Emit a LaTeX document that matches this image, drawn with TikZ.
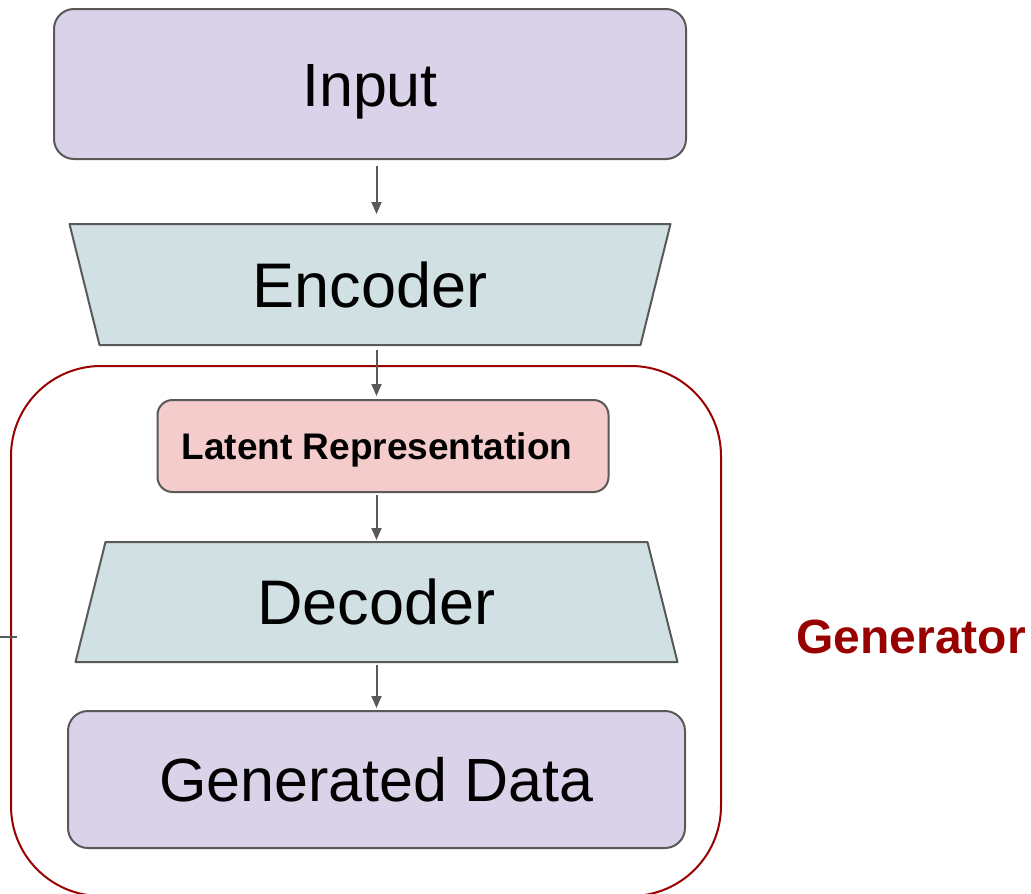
\documentclass[tikz,border=0pt]{standalone}
\usepackage{fontspec}
\setmainfont{Liberation Sans}
\usepackage{tikz}
\usetikzlibrary{arrows.meta,positioning,backgrounds}
\definecolor{violet}{HTML}{D9D2E9}
\definecolor{bleu}{HTML}{D0E0E3}
\definecolor{rose}{HTML}{F4CCCC}
\definecolor{trait}{HTML}{595959}
\definecolor{rouge}{HTML}{990000}
\tikzset{
  boite/.style={rectangle, rounded corners=20pt, draw=trait, line width=2pt, fill=#1,
                inner sep=0pt, outer sep=0pt, text height=44pt, text depth=0pt,
                font=\fontsize{61}{70}\selectfont},
  trapeze/.style={rectangle, inner sep=0pt, outer sep=0pt, text height=45pt, text depth=0pt,
                  font=\fontsize{63}{70}\selectfont},
  bord/.style={draw=trait, line width=2pt, fill=bleu, line join=round},
  groupe/.style={rectangle, rounded corners=90pt, draw=rouge, line width=2pt, inner sep=0pt},
  arr/.style={-{Triangle[length=12pt,width=10pt]}, line width=2pt, draw=trait},
}

\begin{document}
\begin{tikzpicture}[x=1pt, y=-1pt, node distance=50pt]
  \useasboundingbox (0,0) rectangle (1031,894);
  \node[groupe, minimum width=710pt, minimum height=530pt] (grp) at (366,631) {};
  \node[boite=violet, minimum width=632pt, minimum height=150pt] (in) at (370,84) {Input};
  \node[trapeze, minimum width=541pt, minimum height=121pt, below=65pt of in] (enc) {Encoder};
  \node[boite=rose, rounded corners=15pt, minimum width=451pt, minimum height=92pt,
        text height=27pt, font=\fontsize{37}{40}\selectfont\bfseries,
        below=55pt of enc, xshift=13pt] (lat) {\hspace*{-12pt}Latent Representation};
  \node[trapeze, minimum width=542pt, minimum height=120pt,
        below=50pt of lat, xshift=-6.5pt] (dec) {Decoder};
  \node[boite=violet, minimum width=617pt, minimum height=137pt,
        below=49pt of dec] (gen) {Generated Data};
  \node[text=rouge, font=\fontsize{48}{50}\selectfont\bfseries] (lbl) at (911,637) {Generator};
  \begin{pgfonlayer}{background}
    \draw[bord] ([xshift=-30pt]enc.north west) -- ([xshift=30pt]enc.north east)
      -- (enc.south east) -- (enc.south west) -- cycle;
    \draw[bord] (dec.north west) -- (dec.north east)
      -- ([xshift=30pt]dec.south east) -- ([xshift=-30pt]dec.south west) -- cycle;
  \end{pgfonlayer}
  \coordinate (coupe) at (0,637);
  \draw[arr, shorten <=7pt, shorten >=10pt] (in.south -| dec) -- (enc.north -| dec);
  \draw[arr, shorten <=5pt, shorten >=4pt] (enc.south -| dec) -- (lat.north -| dec);
  \draw[arr, shorten <=3pt, shorten >=2pt] (lat.south -| dec) -- (dec.north);
  \draw[arr, shorten <=3pt, shorten >=3pt] (dec.south) -- (gen.north);
  \draw[line width=2pt, draw=trait] (coupe) -- ++(17,0);
\end{tikzpicture}
\end{document}
